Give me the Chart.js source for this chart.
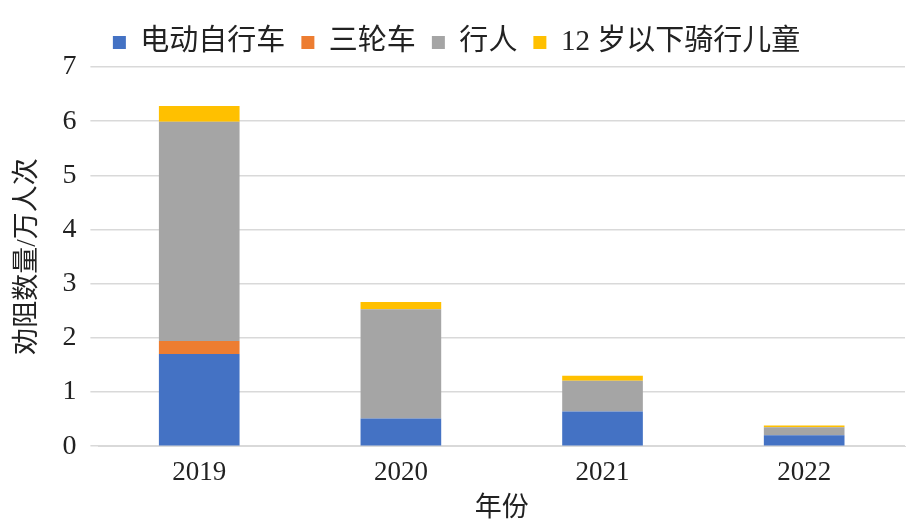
<!DOCTYPE html>
<html>
<head>
<meta charset="utf-8">
<script src="https://cdn.jsdelivr.net/npm/chart.js@4"></script>
<style>
  html, body { margin: 0; padding: 0; background: #fff; }
  #wrap { width: 913px; height: 525px; }
</style>
</head>
<body>
<div id="wrap"><canvas id="chart"></canvas></div>
<script>
// data
const years = ['2019', '2020', '2021', '2022'];
const ebike = [1.70, 0.51, 0.64, 0.20];
const tricycle = [0.24, 0.00, 0.00, 0.00];
const pedestrian = [4.05, 2.02, 0.57, 0.15];
const children = [0.29, 0.13, 0.09, 0.03];
const yTicks = [0, 1, 2, 3, 4, 5, 6, 7];

const FONT = '"Liberation Serif", "Noto Sans CJK SC", serif';

function ds(label, data, color) {
    return {
        label: label,
        data: data,
        backgroundColor: color,
        barPercentage: 0.4,
        categoryPercentage: 1.0
    };
}

new Chart(document.getElementById('chart'), {
    type: 'bar',
    data: {
        labels: years,
        datasets: [
            ds('电动自行车', ebike, '#4472c4'),
            ds('三轮车', tricycle, '#ed7d31'),
            ds('行人', pedestrian, '#a5a5a5'),
            ds('12 岁以下骑行儿童', children, '#ffc000')
        ]
    },
    options: {
        responsive: true,
        maintainAspectRatio: false,
        animation: false,
        layout: { padding: { left: 8, right: 8, top: 12, bottom: 0 } },
        plugins: {
            legend: {
                position: 'top',
                labels: {
                    boxWidth: 13,
                    boxHeight: 13,
                    padding: 16,
                    color: '#222',
                    font: { family: FONT, size: 29 }
                }
            },
            tooltip: { enabled: false }
        },
        scales: {
            x: {
                stacked: true,
                grid: { display: false },
                border: { color: '#d9d9d9' },
                ticks: { color: '#222', font: { family: FONT, size: 27 } },
                title: { display: true, text: '年份', color: '#222', padding: 0, font: { family: FONT, size: 27 } }
            },
            y: {
                stacked: true,
                min: 0,
                max: 7,
                afterBuildTicks: axis => { axis.ticks = yTicks.map(v => ({ value: v })); },
                grid: { color: '#d9d9d9', lineWidth: 1.5 },
                border: { display: false },
                ticks: { color: '#222', padding: 14, font: { family: FONT, size: 28 } },
                title: { display: true, text: '劝阻数量/万人次', color: '#222', font: { family: FONT, size: 27 } }
            }
        }
    }
});
</script>
</body>
</html>
